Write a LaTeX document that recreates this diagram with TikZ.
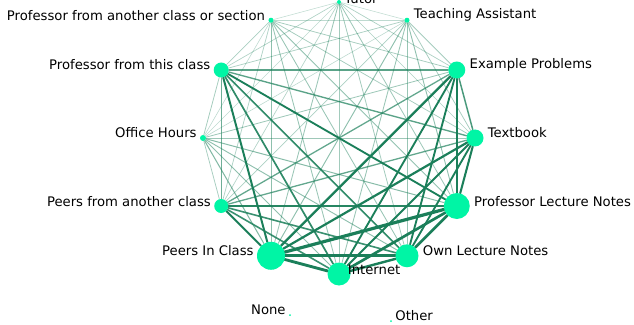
\documentclass[tikz,border=0pt]{standalone}
\usepackage{fontspec}
\setmainfont{DejaVu Sans}
\usetikzlibrary{positioning,backgrounds}

\definecolor{mint}{HTML}{00F5A5}
\definecolor{linkgreen}{HTML}{1B7F5A}

\tikzset{
  src/.style={circle, fill=mint, inner sep=0pt, minimum size=#1},
  lbl/.style={font=\fontsize{13.2}{13.2}\selectfont, inner sep=1pt},
  link/.style={draw=linkgreen, line cap=round},
}

% name/diameter of every source on the ring
\def\srclist{tutor/4, ta/5, ep/17, tb/17, pln/26, oln/23, inet/23, pic/28, pac/14, oh/6, ptc/15, pas/5}

\begin{document}
\begin{tikzpicture}[x=1pt, y=1pt]
            \useasboundingbox (-339,-186) rectangle (295,138);

            \node[src=4]  (tutor) at (90:136)   {};
            \node[src=5]  (ta)    at (60:136)   {};
            \node[src=17] (ep)    at (30:136)   {};
            \node[src=17] (tb)    at (0:136)    {};
            \node[src=26] (pln)   at (-30:136)  {};
            \node[src=23] (oln)   at (-60:136)  {};
            \node[src=23] (inet)  at (-90:136)  {};
            \node[src=28] (pic)   at (-120:136) {};
            \node[src=14] (pac)   at (-150:136) {};
            \node[src=6]  (oh)    at (180:136)  {};
            \node[src=15] (ptc)   at (150:136)  {};
            \node[src=5]  (pas)   at (120:136)  {};
            \node[src=2]  (none)  at (-49,-177) {};
            \node[src=2]  (other) at (52,-183)  {};

            \begin{scope}[on background layer]
              \foreach \a/\sa [count=\i] in \srclist {
                \foreach \b/\sb [count=\j] in \srclist {
                  \ifnum\j>\i
                    \pgfmathsetmacro\w{(\sa*\sb/728)^1.1}
                    \pgfmathsetmacro\lw{0.5+2.7*\w}
                    \pgfmathsetmacro\op{0.25+0.75*min(1,2*\w)}
                    \draw[link, line width=\lw pt, draw opacity=\op] (\a) -- (\b);
                  \fi
                }
              }
            \end{scope}

            \node[lbl, right=2pt of tutor, yshift=3pt] {Tutor};
            \node[lbl, right=3pt of ta, yshift=5pt] {Teaching Assistant};
            \node[lbl, right=3pt of ep, yshift=5pt] {Example Problems};
            \node[lbl, right=3pt of tb, yshift=5pt] {Textbook};
            \node[lbl, right=3pt of pln, yshift=4pt] {Professor Lecture Notes};
            \node[lbl, right=3pt of oln, yshift=5pt] {Own Lecture Notes};
            \node[lbl, right=3pt of inet, xshift=-7pt, yshift=4pt] {Internet};
            \node[lbl, left=2pt of pic, yshift=5pt] {Peers In Class};
            \node[lbl, left=2pt of pac, yshift=4pt] {Peers from another class};
            \node[lbl, left=2pt of oh, yshift=5pt] {Office Hours};
            \node[lbl, left=2pt of ptc, yshift=5pt] {Professor from this class};
            \node[lbl, left=2pt of pas, yshift=5pt] {Professor from another class or section};
            \node[lbl, left=2pt of none, yshift=5pt] {None};
            \node[lbl, right=2pt of other, yshift=5pt] {Other};
        \end{tikzpicture}
\end{document}
